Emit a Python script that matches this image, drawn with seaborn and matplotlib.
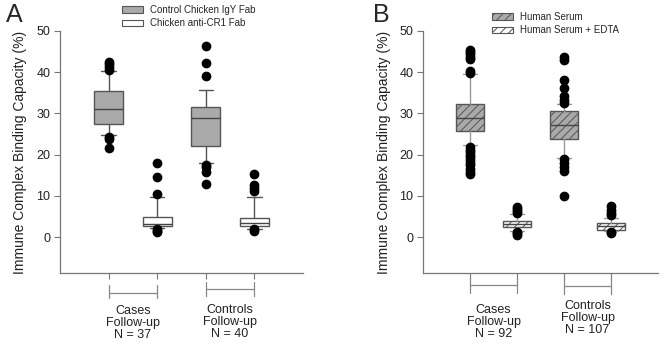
import matplotlib
matplotlib.use("Agg")
import matplotlib.pyplot as plt
import seaborn as sns
from matplotlib.patches import Patch

# ---------------- data ----------------
positions = [1, 2, 3, 4]

# Panel A: order = Cases IgY, Cases anti-CR1, Controls IgY, Controls anti-CR1
a_q1 = [27.5, 2.8, 22.2, 2.6]
a_med = [31.0, 3.1, 28.8, 3.5]
a_q3 = [35.4, 5.0, 31.5, 4.7]
a_lo = [24.7, 2.3, 17.9, 2.0]
a_hi = [40.2, 9.7, 35.8, 9.7]
a_fliers = [
    [42.6, 42.1, 41.2, 40.5, 24.3, 23.8, 21.6],
    [18.0, 14.5, 10.4, 1.9, 1.5, 1.2],
    [46.3, 42.3, 39.2, 17.5, 16.9, 15.7, 12.8],
    [15.2, 12.6, 11.8, 11.2, 1.9, 1.5],
]
a_legend = ["Control Chicken IgY Fab", "Chicken anti-CR1 Fab"]
a_groups = ["Cases\nFollow-up\nN = 37", "Controls\nFollow-up\nN = 40"]

# Panel B: order = Cases HS, Cases HS+EDTA, Controls HS, Controls HS+EDTA
b_q1 = [25.8, 2.4, 23.8, 1.8]
b_med = [29.0, 3.2, 27.1, 2.6]
b_q3 = [32.3, 3.9, 30.5, 3.4]
b_lo = [22.3, 1.5, 19.3, 1.5]
b_hi = [39.5, 5.6, 32.3, 4.7]
b_fliers = [
    [45.4, 44.9, 44.3, 43.7, 43.2, 40.2, 39.8, 21.9, 21.2, 20.6, 20.0, 19.4,
     18.7, 18.0, 17.4, 16.6, 15.8, 15.2],
    [7.3, 6.8, 6.3, 5.8, 1.3, 0.9, 0.5],
    [43.6, 43.0, 38.1, 36.1, 34.2, 33.3, 32.6, 18.9, 17.9, 17.1, 16.1, 10.0],
    [7.6, 6.6, 5.9, 5.3, 1.3, 1.0],
]
b_legend = ["Human Serum", "Human Serum + EDTA"]
b_groups = ["Cases\nFollow-up\nN = 92", "Controls\nFollow-up\nN = 107"]

yticks = [0, 10, 20, 30, 40, 50]
ylabel = "Immune Complex Binding Capacity (%)"

# ---------------- style ----------------
sns.set_style("ticks")
plt.rcParams['font.family'] = ['Liberation Sans', 'DejaVu Sans']
plt.rcParams['hatch.linewidth'] = 0.7
plt.rcParams['hatch.color'] = '#555555'

GRAY = '#aaaaaa'
EDGE = '#555555'
SPINE = '#777777'
HATCH = '////'

W, H = 670, 360
fig = plt.figure(figsize=(6.7, 3.6), dpi=100)

AX_TOP, AX_BOT = 31, 273


def make_ax(left_px, right_px):
    return fig.add_axes([left_px / W, 1 - AX_BOT / H,
                         (right_px - left_px) / W, (AX_BOT - AX_TOP) / H])


def yfrac(px):
    return (AX_BOT - px) / (AX_BOT - AX_TOP)


def draw_panel(ax, q1, med, q3, lo, hi, fliers, faces, hatches, whisk_color,
               groups, brackets, label_y):
    stats = [dict(q1=a, med=m, q3=b, whislo=l, whishi=h, fliers=f)
             for a, m, b, l, h, f in zip(q1, med, q3, lo, hi, fliers)]
    bp = ax.bxp(stats, positions=positions, widths=0.6, capwidths=0.3,
                patch_artist=True, showfliers=True,
                boxprops=dict(edgecolor=EDGE, linewidth=1.0),
                medianprops=dict(color='#444444', linewidth=1.0),
                whiskerprops=dict(color=whisk_color, linewidth=1.0),
                capprops=dict(color=whisk_color, linewidth=1.0),
                flierprops=dict(marker='o', markerfacecolor='black',
                                markeredgecolor='black', markersize=6))
    for patch, fc, h in zip(bp['boxes'], faces, hatches):
        patch.set_facecolor(fc)
        if h:
            patch.set_hatch(h)
    ax.set_xlim(0, 5)
    ax.set_ylim(-8.7, 50)
    ax.set_yticks(yticks)
    ax.set_xticks(positions)
    ax.set_xticklabels([])
    sns.despine(ax=ax)
    for s in ['left', 'bottom']:
        ax.spines[s].set_color(SPINE)
        ax.spines[s].set_linewidth(0.9)
    ax.tick_params(axis='both', length=4, width=0.8, color=SPINE,
                   labelsize=9, pad=3, labelcolor='#222222')
    ax.set_ylabel(ylabel, fontsize=10, color='#222222')
    ax.yaxis.set_label_coords(-0.135, 0.5)
    trans = ax.get_xaxis_transform()
    for (x0, x1), (hy, e0, e1), txt, ty in zip(
            [(positions[0], positions[1]), (positions[2], positions[3])],
            brackets, groups, label_y):
        ax.plot([x0, x1], [yfrac(hy), yfrac(hy)], transform=trans,
                color='#888888', lw=0.9, clip_on=False)
        for xx in (x0, x1):
            ax.plot([xx, xx], [yfrac(e0), yfrac(e1)], transform=trans,
                    color='#888888', lw=0.9, clip_on=False)
        ax.text((x0 + x1) / 2, yfrac(ty), txt, transform=trans,
                ha='center', va='center', fontsize=9, linespacing=1.0,
                color='#222222')
    return bp


# Panel A
axA = make_ax(60, 303)
draw_panel(axA, a_q1, a_med, a_q3, a_lo, a_hi, a_fliers,
           [GRAY, 'white', GRAY, 'white'], [None] * 4, '#555555',
           a_groups, [(293, 285, 298), (289, 282, 296)], [323, 322])

# Panel B
axB = make_ax(423, 658)
draw_panel(axB, b_q1, b_med, b_q3, b_lo, b_hi, b_fliers,
           [GRAY, 'white', GRAY, 'white'], [HATCH] * 4, '#999999',
           b_groups, [(285, 277, 293), (286, 277, 294)], [322, 318])

# legends
hA = [Patch(facecolor=GRAY, edgecolor=EDGE, linewidth=0.8),
      Patch(facecolor='white', edgecolor=EDGE, linewidth=0.8)]
fig.legend(hA, a_legend, loc='upper left', bbox_to_anchor=(122 / W, 1 - 5 / H),
           fontsize=7, frameon=False, borderpad=0, borderaxespad=0,
           handlelength=2.2, handleheight=0.65, handletextpad=0.7,
           labelspacing=0.35)
hB = [Patch(facecolor=GRAY, edgecolor=EDGE, linewidth=0.8, hatch=HATCH),
      Patch(facecolor='white', edgecolor=EDGE, linewidth=0.8, hatch=HATCH)]
fig.legend(hB, b_legend, loc='upper left', bbox_to_anchor=(492 / W, 1 - 12 / H),
           fontsize=7, frameon=False, borderpad=0, borderaxespad=0,
           handlelength=2.2, handleheight=0.65, handletextpad=0.7,
           labelspacing=0.35)

fig.text(6 / W, 1 - 22 / H, "A", fontsize=18, ha='left', va='baseline')
fig.text(373 / W, 1 - 22 / H, "B", fontsize=18, ha='left', va='baseline')

fig.savefig("out.png", dpi=100)
